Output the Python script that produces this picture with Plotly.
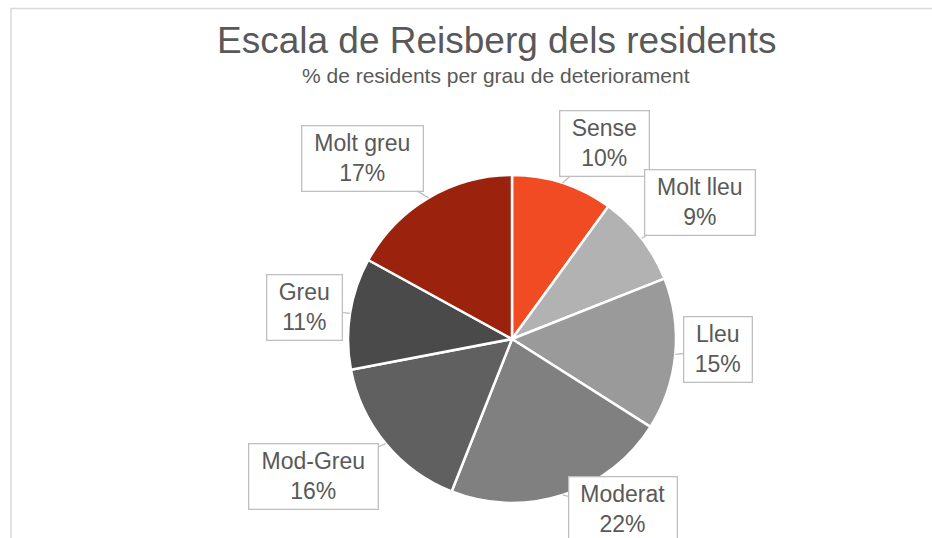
import math
import plotly.graph_objects as go

# ---- data ----
categories = ["Sense", "Molt lleu", "Lleu", "Moderat", "Mod-Greu", "Greu", "Molt greu"]
values = [10, 9, 15, 22, 16, 11, 17]
colors = ["#F04B23", "#B2B2B2", "#9A9A9A", "#808080", "#606060", "#4A4A4A", "#9B230E"]

title_text = "Escala de Reisberg dels residents"
subtitle_text = "% de residents per grau de deteriorament"

# ---- layout geometry (pixels) ----
W, H = 932, 538
CX, CY, R = 512, 339, 164
# callout placement tweaks (radial factor, angular offset in degrees) and box sizes
label_radius = [1.32, 1.415, 1.26, 1.24, 1.47, 1.28, 1.43]
label_dtheta = [7.4, 1.9, -2.4, -15, 4.9, -0.5, -9]
box_width = [86, 107, 65, 105, 126, 72, 118]
box_height = 62

FONT = "Liberation Sans, Arial, sans-serif"
TXT = "#595959"

fig = go.Figure(go.Pie(
    labels=categories,
    values=values,
    sort=False,
    direction="clockwise",
    rotation=0,
    textinfo="none",
    hoverinfo="label+percent",
    marker=dict(colors=colors, line=dict(color="white", width=2.5)),
    domain=dict(x=[(CX - R) / W, (CX + R) / W], y=[1 - (CY + R) / H, 1 - (CY - R) / H]),
    showlegend=False,
))

total = sum(values)
annotations = []
cum = 0
for i, (lab, v) in enumerate(zip(categories, values)):
    mid = (cum + v / 2) / total * 360
    cum += v
    a = math.radians(mid)
    tipx = CX + R * math.sin(a)
    tipy = CY - R * math.cos(a)
    b = math.radians(mid + label_dtheta[i])
    bx = CX + R * label_radius[i] * math.sin(b)
    by = CY - R * label_radius[i] * math.cos(b)
    pct = round(v / total * 100)
    annotations.append(dict(
        x=tipx / W, y=1 - tipy / H, xref="paper", yref="paper",
        ax=bx - tipx, ay=by - tipy,
        text=f"{lab}<br>{pct}%",
        showarrow=True, arrowhead=0, arrowwidth=1.3, arrowcolor="#BFBFBF",
        font=dict(family=FONT, size=23, color=TXT),
        bgcolor="white", bordercolor="#BFBFBF", borderwidth=1.3, borderpad=1,
        width=box_width[i], height=box_height,
        align="center",
    ))

annotations.append(dict(
    x=496 / W, y=1 - 41 / H, xref="paper", yref="paper", showarrow=False,
    text=title_text, font=dict(family=FONT, size=37, color=TXT),
    xanchor="center", yanchor="middle",
))
annotations.append(dict(
    x=496 / W, y=1 - 75 / H, xref="paper", yref="paper", showarrow=False,
    text=subtitle_text, font=dict(family=FONT, size=21, color=TXT),
    xanchor="center", yanchor="middle",
))

fig.update_layout(
    width=W, height=H,
    margin=dict(l=0, r=0, t=0, b=0),
    paper_bgcolor="white", plot_bgcolor="white",
    annotations=annotations,
    shapes=[dict(type="rect", xref="paper", yref="paper",
                 x0=11 / W, x1=1.05, y0=-0.05, y1=1 - 8.5 / H,
                 line=dict(color="#D9D9D9", width=1.5), fillcolor="rgba(0,0,0,0)", layer="below")],
)

fig.write_html(
    "out.html",
    config={"displayModeBar": False},
    post_script="document.body.style.margin='0';document.body.style.overflow='hidden';",
)
